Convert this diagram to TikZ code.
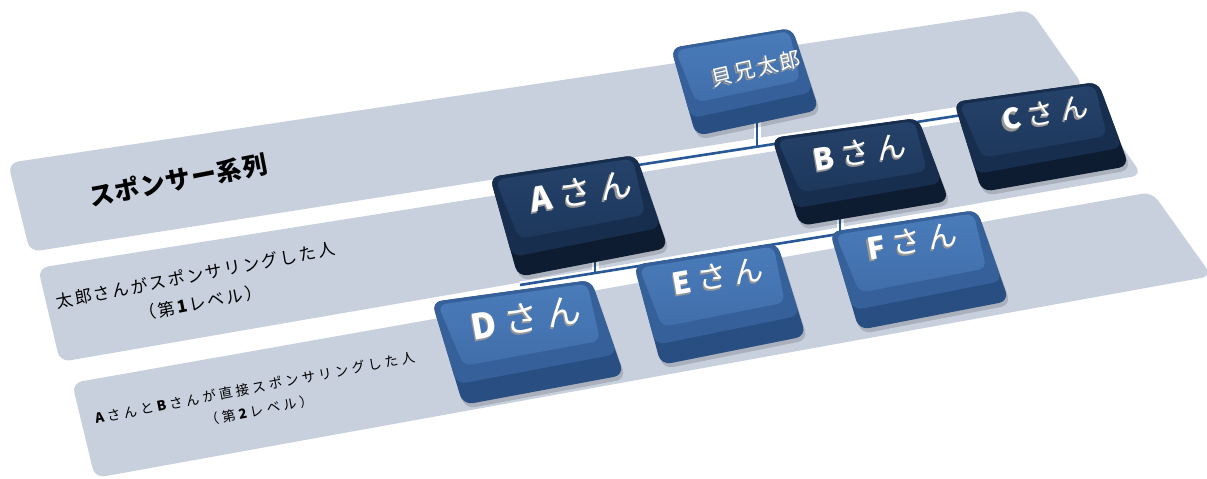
\documentclass[tikz,border=0pt]{standalone}
\usepackage{fontspec}
\newfontfamily\jp{Noto Sans CJK JP}
\usetikzlibrary{calc}

\definecolor{bandfill}{RGB}{200,208,222}
\definecolor{midfacetop}{RGB}{74,124,186}
\definecolor{midface}{RGB}{64,110,170}
\definecolor{midbevel}{RGB}{54,96,153}
\definecolor{midskirt}{RGB}{40,78,130}
\definecolor{navyfacetop}{RGB}{37,66,106}
\definecolor{navyface}{RGB}{30,56,92}
\definecolor{navybevel}{RGB}{24,46,78}
\definecolor{navyskirt}{RGB}{14,28,50}
\definecolor{linkblue}{RGB}{40,88,150}
\definecolor{extrude}{RGB}{150,150,150}

% point at (u,v) inside the quad <box>tl, <box>tr, <box>br, <box>bl
\newcommand\uvpt[4]{%
  \path ($(#1tl)!#2!(#1tr)$) coordinate (#4-u1)
        ($(#1bl)!#2!(#1br)$) coordinate (#4-u2)
        ($(#4-u1)!#3!(#4-u2)$) coordinate (#4);}

% a raised key: skirt, bevel and face
\newcommand\keycap[2]{%
  \uvpt{#1}{0.03}{0.035}{#1fa}%
  \uvpt{#1}{0.97}{0.03}{#1fb}%
  \uvpt{#1}{0.93}{0.62}{#1fc}%
  \uvpt{#1}{0.075}{0.64}{#1fd}%
  \uvpt{#1}{0}{0.8}{#1sa}%
  \uvpt{#1}{1}{0.78}{#1sb}%
  \fill[black, opacity=.15, rounded corners=10pt]
    ($(#1tl)+(2,4)$) -- ($(#1tr)+(2,4)$) -- ($(#1br)+(2,4)$) -- ($(#1bl)+(2,4)$) -- cycle;
  \fill[#2skirt, rounded corners=10pt] (#1tl) -- (#1tr) -- (#1br) -- (#1bl) -- cycle;
  \fill[#2bevel, rounded corners=9pt] (#1tl) -- (#1tr) -- (#1sb) -- (#1sa) -- cycle;
  \shade[top color=#2facetop, bottom color=#2face, rounded corners=8pt]
    (#1fa) -- (#1fb) -- (#1fc) -- (#1fd) -- cycle;}

% white lettering over a grey extrusion
\newcommand\keylabel[6]{% name, position, size, angle, letter spacing, text
  \node[font={\jp\fontsize{#3}{#3}\selectfont\addfontfeature{LetterSpace=#5}},
        text=extrude, rotate=#4, inner sep=0pt] at ($(#2)+(-1.3,2.1)$) {#6};
  \node[font={\jp\fontsize{#3}{#3}\selectfont\addfontfeature{LetterSpace=#5}},
        text=white, rotate=#4, inner sep=0pt] (#1) at (#2) {#6};}

\tikzset{
  band/.style={fill=bandfill, rounded corners=10pt},
  linkcase/.style={white, line width=7pt},
  link/.style={linkblue, line width=2.6pt},
  bandtext/.style={text=black, rotate=11, align=center}
}

\begin{document}
\begin{tikzpicture}[x=1pt, y=-1pt]
\useasboundingbox (0,0) rectangle (1207,479);
\fill[white] (0,0) rectangle (1207,479);

% the three level bands
\fill[band] (8,163) -- (1030,10) -- (1084,87) -- (30,252) -- cycle;
\fill[band] (38,268) -- (1090,101) -- (1142,175) -- (60,362) -- cycle;
\fill[band] (72,383) -- (1152,192) -- (1212,276) -- (95,478) -- cycle;

\node[bandtext, font={\jp\fontsize{25}{30}\selectfont\bfseries\addfontfeature{LetterSpace=4}}]
  (title) at (178,180) {スポンサー系列};
\node[bandtext, font={\jp\fontsize{17}{28}\selectfont\addfontfeature{LetterSpace=12}}]
  (lvl1) at (198,289) {太郎さんがスポンサリングした人\\（第\textbf{1}レベル）};
\node[bandtext, font={\jp\fontsize{13.5}{23}\selectfont\addfontfeature{LetterSpace=25}}]
  (lvl2) at (257,399) {\textbf{A}さんと\textbf{B}さんが直接スポンサリングした人\\（第\textbf{2}レベル）};

% key outlines
\coordinate (Rtl) at (671,48);  \coordinate (Rtr) at (792,28);
\coordinate (Rbr) at (819,110); \coordinate (Rbl) at (696,136);
\coordinate (Atl) at (490,177); \coordinate (Atr) at (636,155);
\coordinate (Abr) at (668,248); \coordinate (Abl) at (518,277);
\coordinate (Btl) at (772,138); \coordinate (Btr) at (918,118);
\coordinate (Bbr) at (949,201); \coordinate (Bbl) at (800,226);
\coordinate (Ctl) at (954,102); \coordinate (Ctr) at (1098,82);
\coordinate (Cbr) at (1129,166); \coordinate (Cbl) at (982,192);
\coordinate (Dtl) at (432,302); \coordinate (Dtr) at (591,280);
\coordinate (Dbr) at (624,375); \coordinate (Dbl) at (463,405);
\coordinate (Etl) at (634,265); \coordinate (Etr) at (777,243);
\coordinate (Ebr) at (806,336); \coordinate (Ebl) at (661,365);
\coordinate (Ftl) at (830,232); \coordinate (Ftr) at (977,210);
\coordinate (Fbr) at (1009,301); \coordinate (Fbl) at (859,330);

% connector ends
\coordinate (bar1L) at (580,174);  \coordinate (bar1R) at (1040,103);
\coordinate (rootFoot) at (757,122); \coordinate (rootJoin) at (757,147);
\coordinate (bar2L) at (520,285);  \coordinate (bar2R) at (920,221);
\coordinate (aFoot) at (595,262);  \coordinate (aJoin) at (595,273);
\coordinate (bFoot) at (840,219);  \coordinate (bJoin) at (840,234);

\foreach \s in {linkcase, link} {
  \draw[\s] (bar1L) -- (bar1R);
  \draw[\s] (rootFoot) -- (rootJoin);
  \draw[\s] (bar2L) -- (bar2R);
  \draw[\s] (aFoot) -- (aJoin);
  \draw[\s] (bFoot) -- (bJoin);
}

% keys, back to front
\keycap{R}{mid}
\keylabel{root}{756,68}{21}{13}{12}{貝兄太郎}
\keycap{C}{navy}
\keylabel{c}{1045,113}{28}{10}{22}{\textbf{C}さん}
\keycap{B}{navy}
\keylabel{b}{860,152}{30}{10}{22}{\textbf{B}さん}
\keycap{A}{navy}
\keylabel{a}{581,191}{33}{10}{22}{\textbf{A}さん}
\keycap{F}{mid}
\keylabel{f}{912,241}{30}{10}{22}{\textbf{F}さん}
\keycap{E}{mid}
\keylabel{e}{718,276}{30}{10}{22}{\textbf{E}さん}
\keycap{D}{mid}
\keylabel{d}{526,318}{35}{10}{22}{\textbf{D}さん}
\end{tikzpicture}
\end{document}
